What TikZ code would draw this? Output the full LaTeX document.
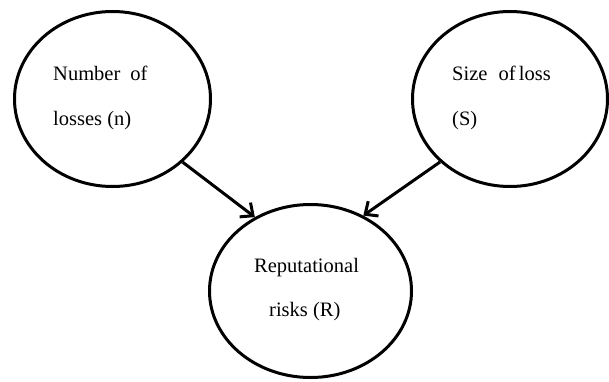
\documentclass[tikz,border=0pt]{standalone}
\usepackage{fontspec}
\setmainfont{Liberation Serif}
\usetikzlibrary{shapes.geometric,arrows.meta}
\begin{document}
\begin{tikzpicture}[x=1pt,y=1pt,
  oval/.style={draw=black,line width=3pt,ellipse,inner sep=0pt},
  lbl/.style={anchor=base west,inner sep=0pt,font=\fontsize{20.5}{24}\selectfont},
  conn/.style={line width=3pt,-{Straight Barb[length=10pt,width=18pt,line width=3pt]}}]
\useasboundingbox (0,0) rectangle (609,381);
\node[oval,minimum width=196pt,minimum height=175pt] (L) at (112.5,282) {};
\node[oval,minimum width=195pt,minimum height=175pt] (S) at (510,282) {};
\node[oval,minimum width=202pt,minimum height=173pt] (R) at (310.5,90) {};
\node[lbl] (l1) at (53,301) {Number\hspace{5pt} of};
\node[lbl] (l2) at (53,256) {losses (n)};
\node[lbl] (s1) at (452,301) {Size\hspace{6pt} of\hspace{-2pt} loss};
\node[lbl] (s2) at (452,256) {(S)};
\node[lbl] (r1) at (254,108.3) {Reputational};
\node[lbl] (r2) at (269,64.3) {risks (R)};
\draw[conn] (L.-42.2) -- (R.127.1);
\draw[conn] (S.222.8) -- (R.55.9);
\end{tikzpicture}
\end{document}
